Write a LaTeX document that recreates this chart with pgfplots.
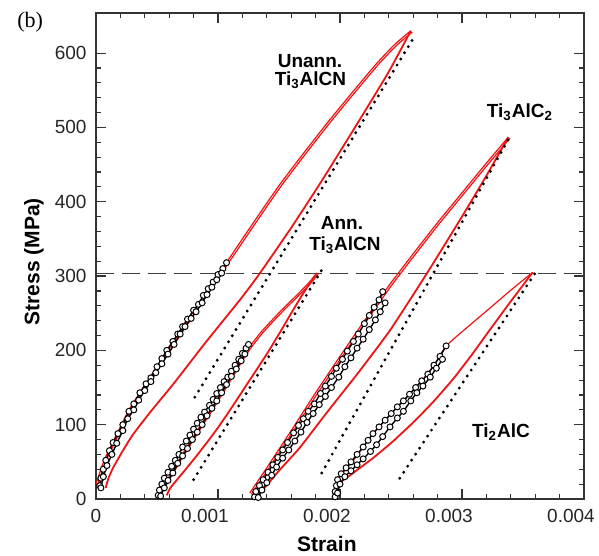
\documentclass[border=0pt]{standalone}
\usepackage{fontspec}
\setmainfont{Liberation Sans}
\newfontfamily\serifb{Liberation Serif}
\usepackage{pgfplots}
\usepackage{pgfplotstable}
\pgfplotsset{compat=1.18}
\definecolor{cred}{RGB}{238,20,20}

% ---------- Unannealed Ti3AlCN ----------
\pgfplotstableread{
x y
0.00000 20
0.00004 40
0.00008 57
0.00016 84
0.00027 120
0.00041 156
0.00055 190
0.00071 230
0.00088 272
0.00104 311
0.00120 350
0.00137 391
0.00151 424
0.00170 465
0.00190 507
0.00210 547
0.00230 586
0.00245 612
0.00258 630
}\Uup
\pgfplotstableread{
x y
0.00008 15
0.00010 27
0.00014 42
0.00022 65
0.00030 86
0.00044 116
0.00064 156
0.00090 211
0.00118 268
0.00134 303
0.00160 365
0.00185 428
0.00216 510
0.00240 575
0.00258 630
}\Ulo
\pgfplotstableread{
x y
0.00003 18
0.00004 28
0.00006 40
0.00008 52
0.00011 65
0.00014 76
0.00018 88
0.00022 100
0.00027 118
0.00031 128
0.00036 143
0.00041 155
0.00045 163
0.00050 178
0.00054 189
0.00058 200
0.00063 212
0.00067 222
0.00071 232
0.00075 242
0.00080 254
0.00084 262
0.00088 274
0.00092 283
0.00096 292
0.00100 302
0.00104 310
0.00107 318
}\Umone
\pgfplotstableread{
x y
0.00004 15
0.00006 30
0.00009 45
0.00013 60
0.00017 75
0.00022 92
0.00026 108
0.00031 120
0.00035 133
0.00040 146
0.00045 158
0.00049 170
0.00054 182
0.00059 195
0.00064 208
0.00069 222
0.00073 232
0.00078 243
0.00082 252
0.00087 264
0.00091 275
0.00095 285
0.00099 295
0.00103 304
}\Umtwo

% ---------- Annealed Ti3AlCN ----------
\pgfplotstableread{
x y
0.00051 5
0.00060 30
0.00070 58
0.00080 84
0.00090 110
0.00100 136
0.00110 163
0.00118 185
0.00126 205
0.00135 224
0.00145 242
0.00155 259
0.00165 275
0.00175 292
0.00181 304
}\Aup
\pgfplotstableread{
x y
0.00058 5
0.00061 15
0.00070 33
0.00080 53
0.00090 74
0.00100 96
0.00110 120
0.00120 145
0.00130 170
0.00140 195
0.00150 222
0.00160 250
0.00170 277
0.00181 304
}\Alo
\pgfplotstableread{
x y
0.00051 5
0.00052 12
0.00054 20
0.00056 28
0.00059 36
0.00062 44
0.00065 52
0.00068 60
0.00071 70
0.00074 78
0.00077 86
0.00080 94
0.00083 102
0.00086 110
0.00089 117
0.00093 126
0.00096 134
0.00099 142
0.00102 150
0.00105 158
0.00108 164
0.00111 172
0.00114 180
0.00117 188
0.00120 196
0.00123 203
0.00125 208
}\Amone
\pgfplotstableread{
x y
0.00053 4
0.00056 15
0.00059 25
0.00063 35
0.00067 48
0.00071 58
0.00075 68
0.00079 80
0.00083 90
0.00087 100
0.00091 112
0.00095 122
0.00099 132
0.00103 143
0.00107 154
0.00111 165
0.00115 175
0.00119 186
0.00122 195
}\Amtwo

% ---------- Ti3AlC2 ----------
\pgfplotstableread{
x y
0.00126 8
0.00140 42
0.00160 92
0.00180 143
0.00200 192
0.00220 240
0.00240 287
0.00260 330
0.00280 372
0.00300 412
0.00320 452
0.00338 487
}\Cup
\pgfplotstableread{
x y
0.00132 3
0.00150 38
0.00167 69
0.00190 118
0.00215 170
0.00241 227
0.00271 303
0.00300 380
0.00320 435
0.00338 487
}\Clo
\pgfplotstableread{
x y
0.00130 3
0.00131 10
0.00134 18
0.00137 26
0.00141 36
0.00145 46
0.00149 56
0.00153 66
0.00157 76
0.00162 89
0.00166 99
0.00170 108
0.00174 118
0.00179 128
0.00184 142
0.00188 152
0.00193 165
0.00197 176
0.00202 188
0.00206 199
0.00211 212
0.00215 222
0.00220 236
0.00224 247
0.00228 258
0.00232 268
0.00235 279
}\Cmone
\pgfplotstableread{
x y
0.00133 2
0.00136 12
0.00140 22
0.00144 32
0.00148 43
0.00153 55
0.00158 66
0.00163 78
0.00168 90
0.00173 103
0.00178 115
0.00183 127
0.00188 138
0.00193 150
0.00199 164
0.00204 178
0.00209 190
0.00214 203
0.00219 215
0.00224 228
0.00229 241
0.00233 252
0.00237 264
}\Cmtwo

% ---------- Ti2AlC ----------
\pgfplotstableread{
x y
0.00195 3
0.00196 15
0.00199 28
0.00205 40
0.00212 54
0.00220 72
0.00227 88
0.00237 106
0.00247 124
0.00257 141
0.00267 159
0.00277 180
0.00287 206
0.00305 232
0.00323 257
0.00340 281
0.00358 305
}\Tup
\pgfplotstableread{
x y
0.00197 5
0.00198 19
0.00210 34
0.00227 55
0.00243 77
0.00260 103
0.00276 130
0.00293 162
0.00308 194
0.00323 228
0.00340 266
0.00358 305
}\Tlo
\pgfplotstableread{
x y
0.00196 3
0.00196 10
0.00197 18
0.00198 26
0.00201 34
0.00205 42
0.00209 50
0.00214 60
0.00219 70
0.00223 79
0.00227 88
0.00232 97
0.00237 106
0.00242 115
0.00247 124
0.00252 132
0.00257 141
0.00262 150
0.00267 159
0.00272 168
0.00277 180
0.00282 192
0.00287 206
}\Tmone
\pgfplotstableread{
x y
0.00198 8
0.00200 20
0.00204 30
0.00209 38
0.00214 46
0.00219 54
0.00225 64
0.00230 73
0.00235 84
0.00241 97
0.00247 109
0.00252 118
0.00258 132
0.00263 143
0.00268 152
0.00274 164
0.00279 176
0.00284 188
}\Tmtwo

\begin{document}
\begin{tikzpicture}
\begin{axis}[
  at={(0,0)}, anchor=south west,
  scale only axis, width=244pt, height=243pt,
  xmin=0, xmax=0.004, ymin=0, ymax=654,
  clip=false,
  axis line style={black!80, line width=0.7pt},
  every tick/.style={black!80, line width=0.6pt},
  major tick length=5pt, minor tick length=2.5pt,
  tick align=inside,
  xtick={0,0.001,0.002,0.003,0.004},
  xticklabels={0,\hspace*{-13pt}0.001,\hspace*{-13pt}0.002,\hspace*{-13pt}0.003,\hspace*{-13pt}0.004},
  scaled x ticks=false,
  ytick={0,100,200,300,400,500,600},
  minor x tick num=4, minor y tick num=4,
  /pgf/number format/assume math mode=true,
  tick label style={font=\fontsize{9.5}{11}\selectfont, text=black!85},
  xticklabel style={yshift=-1.5pt},
  yticklabel style={xshift=-1.2pt},
  xlabel={Strain}, ylabel={Stress (MPa)},
  label style={font=\fontsize{10.5}{12}\selectfont\bfseries},
  xlabel style={at={(axis description cs:0.473,-0.093)}, anchor=center},
  ylabel style={at={(axis description cs:-0.127,0.488)}, anchor=center, rotate=0},
  redl/.style={cred, line width=0.6pt, smooth, tension=0.3},
  mk/.style={black, line width=0.7pt, mark=*, mark size=1.5pt,
             mark options={fill=white, draw=black, line width=0.5pt, solid}},
  dotl/.style={black, line width=1.6pt, line cap=round, dash pattern=on 0pt off 3.6pt},
]
% reference line
\addplot[black!75, line width=0.5pt, dash pattern=on 9pt off 4pt] coordinates {(0,303) (0.004,303)};

% red hysteresis loops (several overlapping cycles)
\addplot[redl] table {\Uup};
\addplot[redl, xshift=0.8pt, yshift=-0.6pt] table {\Uup};
\addplot[redl, line width=0.9pt] table {\Ulo};
\addplot[redl] table {\Aup};
\addplot[redl, xshift=0.7pt, yshift=-0.5pt] table {\Aup};
\addplot[redl, line width=0.9pt] table {\Alo};
\addplot[redl] table {\Cup};
\addplot[redl, xshift=0.8pt, yshift=-0.6pt] table {\Cup};
\addplot[redl, line width=0.9pt] table {\Clo};
\addplot[redl] table {\Tup};
\addplot[redl, line width=0.9pt] table {\Tlo};

% black curves with open markers
\addplot[mk] table {\Umone};
\addplot[mk] table {\Umtwo};
\addplot[mk] table {\Amone};
\addplot[mk] table {\Amtwo};
\addplot[mk] table {\Cmone};
\addplot[mk] table {\Cmtwo};
\addplot[mk] table {\Tmone};
\addplot[mk] table {\Tmtwo};

% dotted elastic lines
\addplot[dotl] coordinates {(0.00081,137) (0.00262,625)};
\addplot[dotl] coordinates {(0.00080,26) (0.00185,308)};
\addplot[dotl] coordinates {(0.00185,35) (0.00340,490)};
\addplot[dotl] coordinates {(0.00249,28) (0.00360,304)};

% annotations
\begin{scope}[every node/.style={font=\fontsize{9.5}{11}\selectfont\bfseries, anchor=base, inner sep=0pt}]
\node at (axis cs:0.001754,580) {Unann.};
\node at (axis cs:0.001758,556) {Ti\textsubscript{3}AlCN};
\node at (axis cs:0.003475,514) {Ti\textsubscript{3}AlC\textsubscript{2}};
\node at (axis cs:0.002016,362) {Ann.};
\node at (axis cs:0.002041,334) {Ti\textsubscript{3}AlCN};
\node at (axis cs:0.003320,83) {Ti\textsubscript{2}AlC};
\end{scope}
\node[font=\fontsize{11}{12}\selectfont\serifb, anchor=center, inner sep=0pt] at (axis cs:-0.00054,642) {(b)};
\end{axis}
\pgfresetboundingbox
\path[use as bounding box] (-48pt,-28.5pt) rectangle (251.5pt,249.5pt);
\end{tikzpicture}
\end{document}
